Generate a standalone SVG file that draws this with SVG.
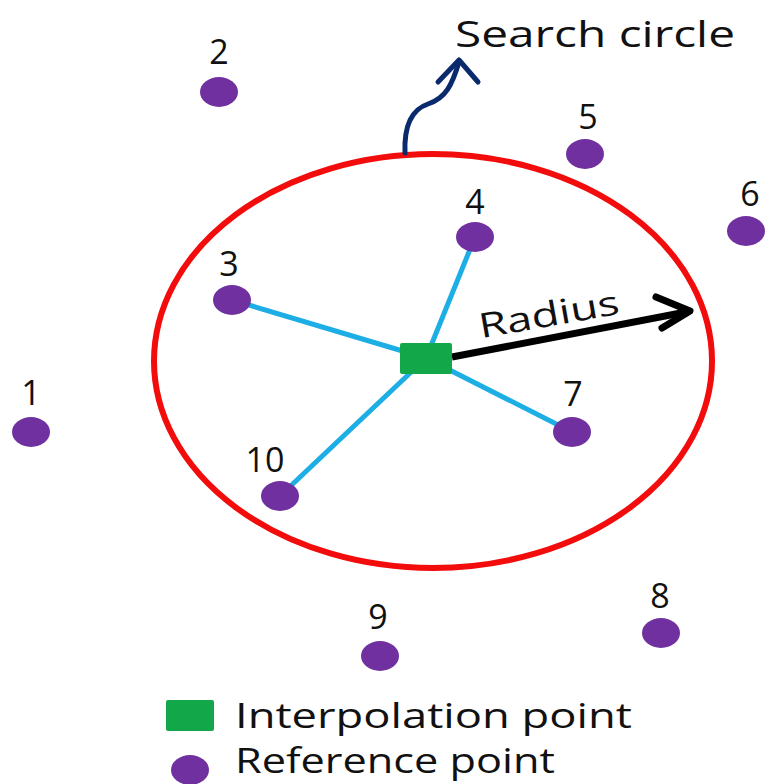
<svg xmlns="http://www.w3.org/2000/svg" width="769" height="784" viewBox="0 0 769 784">
<style>
.pt{fill:#7030A0}
.lbl{font-family:"Open Sans","Liberation Sans",sans-serif;font-size:34px;fill:#111;text-anchor:middle}
.big{font-family:"Open Sans","Liberation Sans",sans-serif;font-size:37px;fill:#111}
.leg{font-family:"Open Sans","Liberation Sans",sans-serif;font-size:35px;fill:#111}
.spoke{stroke:#1CAEE4;stroke-width:5;fill:none}
</style>
<rect width="769" height="784" fill="#fff"/>
<g id="search-circle"><ellipse cx="433" cy="361" rx="279" ry="207" fill="none" stroke="#F20C0C" stroke-width="6"/></g>
<g id="connectors">
<line class="spoke" x1="426" y1="358" x2="232" y2="300"/>
<line class="spoke" x1="426" y1="358" x2="475" y2="237"/>
<line class="spoke" x1="426" y1="358" x2="572" y2="432"/>
<line class="spoke" x1="426" y1="358" x2="280" y2="496"/>
<path d="M452,357 L686,312" stroke="#000" stroke-width="7" fill="none"/>
<path d="M656,297 L690,311 L662,328" stroke="#000" stroke-width="7" fill="none" stroke-linecap="round" stroke-linejoin="round"/>
<path d="M405,153 C404,128 410,110 428,104 C446,98 452,85 459,62" stroke="#0A2A6E" stroke-width="5" fill="none" stroke-linecap="round"/>
<path d="M438,82 L459,60 L478,82" stroke="#0A2A6E" stroke-width="5" fill="none" stroke-linecap="round" stroke-linejoin="round"/>
</g>
<g id="interp"><rect x="400" y="343" width="52" height="31" rx="2" fill="#12A84A"/></g>
<g id="p1"><ellipse class="pt" cx="31" cy="432" rx="19" ry="15"/><text class="lbl" x="31" y="405">1</text></g>
<g id="p2"><ellipse class="pt" cx="219" cy="92" rx="19" ry="15"/><text class="lbl" x="219" y="64">2</text></g>
<g id="p3"><ellipse class="pt" cx="232" cy="300" rx="19" ry="15"/><text class="lbl" x="229" y="276">3</text></g>
<g id="p4"><ellipse class="pt" cx="475" cy="237" rx="19" ry="15"/><text class="lbl" x="475" y="214">4</text></g>
<g id="p5"><ellipse class="pt" cx="585" cy="154" rx="19" ry="15"/><text class="lbl" x="588" y="129">5</text></g>
<g id="p6"><ellipse class="pt" cx="746" cy="231" rx="19" ry="15"/><text class="lbl" x="750" y="206">6</text></g>
<g id="p7"><ellipse class="pt" cx="572" cy="432" rx="19" ry="15"/><text class="lbl" x="573" y="406">7</text></g>
<g id="p8"><ellipse class="pt" cx="661" cy="633" rx="19" ry="15"/><text class="lbl" x="660" y="608">8</text></g>
<g id="p9"><ellipse class="pt" cx="380" cy="656" rx="19" ry="15"/><text class="lbl" x="378" y="629">9</text></g>
<g id="p10"><ellipse class="pt" cx="280" cy="496" rx="19" ry="15"/><text class="lbl" x="265" y="472">10</text></g>
<g id="radius-label"><text class="lbl" x="0" y="0" font-size="36" textLength="142" lengthAdjust="spacingAndGlyphs" transform="translate(551,326) rotate(-10)">Radius</text></g>
<g id="title"><text class="big" x="455" y="47" textLength="280" lengthAdjust="spacingAndGlyphs">Search circle</text></g>
<g id="legend">
<rect x="166" y="700" width="48" height="31" rx="2" fill="#12A84A"/>
<text class="leg" x="235" y="728" textLength="397" lengthAdjust="spacingAndGlyphs">Interpolation point</text>
<ellipse class="pt" cx="190" cy="770" rx="19" ry="15"/>
<text class="leg" x="235" y="773" textLength="320" lengthAdjust="spacingAndGlyphs">Reference point</text>
</g>
</svg>
